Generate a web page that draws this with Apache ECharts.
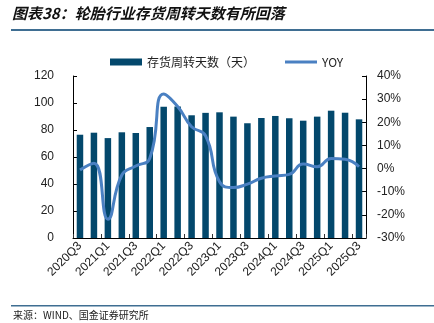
<!DOCTYPE html>
<html><head><meta charset="utf-8">
<script src="https://cdn.jsdelivr.net/npm/echarts@6/dist/echarts.min.js"></script>
<style>html,body{margin:0;padding:0;background:#fff}#c{width:434px;height:323px}</style>
</head><body><div id="c"></div>
<script>
const categories = ['2020Q3','2020Q4','2021Q1','2021Q2','2021Q3','2021Q4','2022Q1','2022Q2','2022Q3','2022Q4','2023Q1','2023Q2','2023Q3','2023Q4','2024Q1','2024Q2','2024Q3','2024Q4','2025Q1','2025Q2','2025Q3'];
const days = [76.5, 78, 74, 78.3, 77.8, 82.2, 97.3, 97.5, 90.9, 92.7, 93.1, 89.9, 85, 88.9, 90.4, 88.7, 86.9, 89.9, 94.3, 92.8, 87.9];
const yoy = [-0.6, 2.3, -21.9, -2.8, 1.1, 4.4, 32.2, 26.8, 18.1, 14.2, -5.7, -8.2, -6.7, -4.2, -3.2, -2.5, 2.0, 0.8, 4.4, 4.0, 0.8];
const leftTicks = {min: 0, max: 120, interval: 20};
const rightTicks = {min: -30, max: 40, interval: 10};

const chart = echarts.init(document.getElementById('c'));
const font = "'Liberation Sans', Arial, sans-serif";
chart.setOption({
  animation: false,
  legend: {
    top: 51, left: 105, itemGap: 30, itemWidth: 32, itemHeight: 7,
    textStyle: {fontFamily: "'Noto Sans CJK SC', sans-serif", fontSize: 12, color: '#222'},
    data: [{name: '存货周转天数（天）', icon: 'rect'}, {name: 'YOY', icon: 'path://M0,0 L32,0 L32,3 L0,3 Z'}]
  },
  graphic: [
    {type: 'text', left: 12, top: 6, style: {text: '图表38：轮胎行业存货周转天数有所回落', font: "italic bold 15px 'Noto Sans CJK SC', sans-serif", fill: '#111'}},
    {type: 'rect', left: 11, top: 29, shape: {width: 423, height: 2}, style: {fill: '#3f6e92'}},
    {type: 'rect', left: 11, top: 305, shape: {width: 423, height: 1.5}, style: {fill: '#3f6e92'}},
    {type: 'text', left: 13, top: 310, style: {text: '来源：WIND、国金证券研究所', font: "10px 'Noto Sans CJK SC', monospace", fill: '#222'}}
  ],
  grid: {left: 73, right: 68, top: 76, bottom: 85},
  xAxis: {
    type: 'category', data: categories,
    axisLine: {lineStyle: {color: '#000', width: 1}},
    axisTick: {show: true, inside: true, length: 4, lineStyle: {color: '#333'}},
    axisLabel: {interval: 1, rotate: 45, fontSize: 12, fontFamily: font, color: '#222', margin: 6}
  },
  yAxis: [
    {type: 'value', min: leftTicks.min, max: leftTicks.max, interval: leftTicks.interval,
     splitLine: {show: false},
     axisLine: {show: true, lineStyle: {color: '#000'}},
     axisTick: {show: true, inside: true, length: 4, lineStyle: {color: '#000'}},
     axisLabel: {fontSize: 12, fontFamily: font, color: '#222', margin: 19}},
    {type: 'value', min: rightTicks.min, max: rightTicks.max, interval: rightTicks.interval,
     splitLine: {show: false},
     axisLine: {show: true, lineStyle: {color: '#000'}},
     axisTick: {show: true, inside: true, length: 4, lineStyle: {color: '#000'}},
     axisLabel: {fontSize: 12, fontFamily: font, color: '#222', margin: 11, formatter: '{value}%'}}
  ],
  series: [
    {name: '存货周转天数（天）', type: 'bar', data: days, barWidth: 6.5, yAxisIndex: 0,
     itemStyle: {color: '#03486c'}},
    {name: 'YOY', type: 'line', data: yoy, yAxisIndex: 1, smooth: 0.5, showSymbol: false, symbol: 'none',
     lineStyle: {color: '#4a80c2', width: 3}, itemStyle: {color: '#4a80c2'}}
  ]
});
</script></body></html>
